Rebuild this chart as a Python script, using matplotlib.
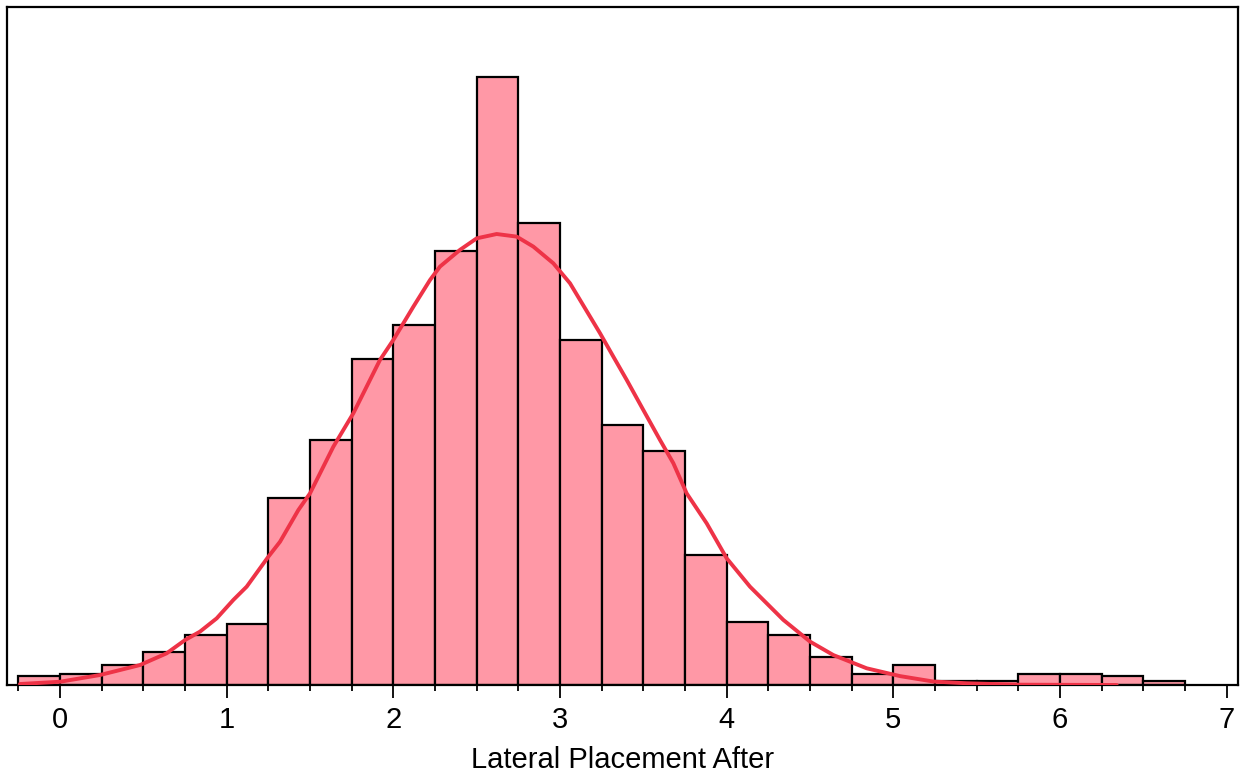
import numpy as np
import matplotlib
matplotlib.use("Agg")
import matplotlib.pyplot as plt
from matplotlib.ticker import MultipleLocator

# Histogram bins (left edges, width 0.25) and counts
bin_left = [-0.25, 0.0, 0.25, 0.5, 0.75, 1.0, 1.25, 1.5, 1.75, 2.0, 2.25, 2.5, 2.75,
            3.0, 3.25, 3.5, 3.75, 4.0, 4.25, 4.5, 4.75, 5.0, 5.25, 5.5, 5.75, 6.0,
            6.25, 6.5]
counts = [4, 5, 9, 15, 23, 28, 86, 113, 150, 166, 200, 280, 213,
          159, 120, 108, 60, 29, 23, 13, 5, 9, 2, 2, 5, 5, 4, 2]
bin_width = 0.25

# Density curve (in count units)
curve_x = [-0.24, 0.0, 0.24, 0.48, 0.64, 0.75, 0.84, 0.94, 1.04, 1.12, 1.25, 1.32,
           1.43, 1.50, 1.64, 1.76, 1.92, 2.00, 2.12, 2.22, 2.28, 2.40, 2.50, 2.62,
           2.74, 2.84, 2.96, 3.06, 3.15, 3.24, 3.32, 3.40, 3.50, 3.60, 3.68, 3.76,
           3.88, 4.00, 4.14, 4.34, 4.50, 4.64, 4.84, 5.04, 5.24, 5.44, 5.74, 6.34]
curve_y = [0.46, 1.5, 4.6, 9.2, 14.6, 20.7, 24.6, 30.7, 39.2, 45.3, 59.1, 66.0,
           80.6, 88.3, 109.8, 125.2, 149.8, 159.0, 174.3, 186.6, 192.8, 200.5, 205.8, 207.8,
           206.6, 202.0, 194.3, 185.1, 173.6, 162.1, 151.3, 140.6, 126.7, 112.9, 102.2, 88.3,
           74.5, 58.4, 45.3, 30.0, 20.0, 13.8, 7.7, 4.1, 1.6, 0.8, 0.15, 0.0]

x_ticks = [0, 1, 2, 3, 4, 5, 6, 7]
x_label = "Lateral Placement After"

plt.rcParams['font.family'] = ['Liberation Sans', 'DejaVu Sans']

fig = plt.figure(figsize=(12.48, 7.74), dpi=100)
ax = fig.add_axes([7/1248, 1 - 685/774, (1238 - 7)/1248, (685 - 7)/774])

ax.bar(bin_left, counts, width=bin_width, align='edge', color='#FF98A6',
       edgecolor='black', linewidth=1.6, zorder=2)
ax.plot(curve_x, curve_y, color='#EE3347', linewidth=2.8, zorder=3,
        solid_capstyle='round', solid_joinstyle='round')

ax.set_xlim(-0.318, 7.068)
ax.set_ylim(0, 312.4)
ax.set_xticks(x_ticks)
ax.set_xticklabels([str(t) for t in x_ticks], fontsize=21)
ax.xaxis.set_minor_locator(MultipleLocator(0.25))
ax.tick_params(axis='x', which='major', length=9, width=1.3, pad=6, direction='out')
ax.tick_params(axis='x', which='minor', length=4.5, width=1.3, direction='out')
ax.set_yticks([])
ax.set_xlabel(x_label, fontsize=21, labelpad=9)
for s in ax.spines.values():
    s.set_linewidth(1.6)
    s.set_color('black')

fig.savefig("out.png", dpi=100)
